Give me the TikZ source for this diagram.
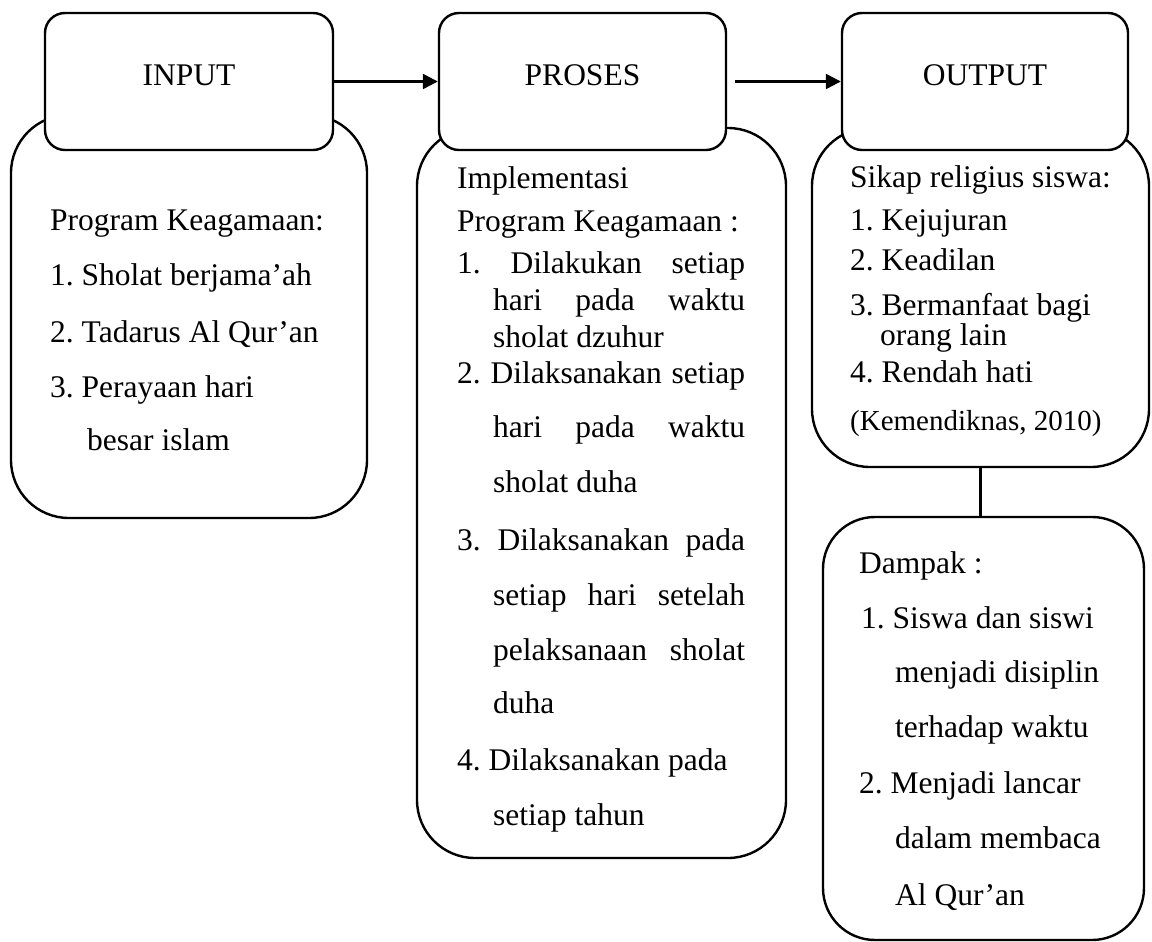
\documentclass[tikz,border=0pt]{standalone}
\usepackage{fontspec}
\setmainfont{Liberation Serif}
\usetikzlibrary{arrows.meta}
\frenchspacing
\begin{document}
\begin{tikzpicture}[x=1pt,y=-1pt,
  boxbody/.style={draw, line width=2.4pt, rounded corners=58pt, fill=white, inner sep=0pt},
  boxhead/.style={draw, line width=2.4pt, rounded corners=20pt, fill=white, inner sep=0pt},
  ln/.style={inner sep=0pt, anchor=base west, font=\fontsize{31.5}{31.5}\selectfont},
  hd/.style={inner sep=0pt, anchor=base, font=\fontsize{31.5}{31.5}\selectfont},
  conn/.style={line width=2.4pt},
  arr/.style={line width=2.4pt, -{Triangle[length=15pt,width=15pt]}}]
\useasboundingbox (0,0) rectangle (1152,942);
\fill[white] (0,0) rectangle (1152,942);

% bodies
\node[boxbody, minimum width=356pt, minimum height=403pt] (inB) at (189,316.5) {};
\node[boxbody, minimum width=369pt, minimum height=730pt] (prB) at (601.5,493) {};
\node[boxbody, minimum width=337pt, minimum height=339pt] (outB) at (980.5,297.5) {};
\node[boxbody, minimum width=321pt, minimum height=423pt, rounded corners=52pt] (dam) at (983.5,728.5) {};

% headers
\node[boxhead, minimum width=288pt, minimum height=137pt] (inH) at (189,81.5) {};
\node[boxhead, minimum width=287pt, minimum height=137pt] (prH) at (582.5,81.5) {};
\node[boxhead, minimum width=286pt, minimum height=137pt] (outH) at (985,81.5) {};

\node[hd] (inL) at (189,85) {INPUT};
\node[hd] (prL) at (582.5,85) {PROSES};
\node[hd] (outL) at (985,85) {OUTPUT};

% connectors
\draw[arr] (inH.east) -- (prH.west);
\draw[arr] ([xshift=8pt]prH.east) -- (outH.west);
\draw[conn] (outB.south) -- (outB.south |- dam.north);

% INPUT text
\node[ln] (i0) at (50,230) {Program Keagamaan:};
\node[ln] (i1) at (50,285) {1. Sholat berjama’ah};
\node[ln] (i2) at (50,342) {2. Tadarus Al Qur’an};
\node[ln] (i3) at (50,397) {3. Perayaan hari};
\node[ln] (i4) at (87,450) {besar islam};

% PROSES text
\node[ln] (p0) at (457,188) {Implementasi};
\node[ln] (p1) at (457,231) {Program Keagamaan :};
\node[ln] (p2) at (457,273) {\hbox to 288pt{1.\hfill Dilakukan\hfill setiap}};
\node[ln] (p3) at (493,310) {\hbox to 252pt{hari\hfill pada\hfill waktu}};
\node[ln] (p4) at (493,347) {sholat dzuhur};
\node[ln] (p5) at (457,383) {\hbox to 288pt{2.\hfill Dilaksanakan\hfill setiap}};
\node[ln] (p6) at (493,437) {\hbox to 252pt{hari\hfill pada\hfill waktu}};
\node[ln] (p7) at (493,492) {sholat duha};
\node[ln] (p8) at (457,550) {\hbox to 288pt{3.\hfill Dilaksanakan\hfill pada}};
\node[ln] (p9) at (493,605) {\hbox to 252pt{setiap\hfill hari\hfill setelah}};
\node[ln] (p10) at (493,660) {\hbox to 252pt{pelaksanaan\hfill sholat}};
\node[ln] (p11) at (493,713) {duha};
\node[ln] (p12) at (457,770) {4. Dilaksanakan pada};
\node[ln] (p13) at (493,825) {setiap tahun};

% OUTPUT text
\node[ln] (o0) at (850,187) {Sikap religius siswa:};
\node[ln] (o1) at (850,230) {1. Kejujuran};
\node[ln] (o2) at (850,270) {2. Keadilan};
\node[ln] (o3) at (850,315) {3. Bermanfaat bagi};
\node[ln] (o4) at (880,345) {orang lain};
\node[ln] (o5) at (850,382) {4. Rendah hati};
\node[ln, font=\fontsize{29}{29}\selectfont] (o6) at (850,430) {(Kemendiknas, 2010)};

% Dampak text
\node[ln] (d0) at (859,573) {Dampak :};
\node[ln] (d1) at (861,628) {1. Siswa dan siswi};
\node[ln] (d2) at (895,682) {menjadi disiplin};
\node[ln] (d3) at (895,737) {terhadap waktu};
\node[ln] (d4) at (859,793) {2. Menjadi lancar};
\node[ln] (d5) at (895,848) {dalam membaca};
\node[ln] (d6) at (895,905) {Al Qur’an};
\end{tikzpicture}
\end{document}
